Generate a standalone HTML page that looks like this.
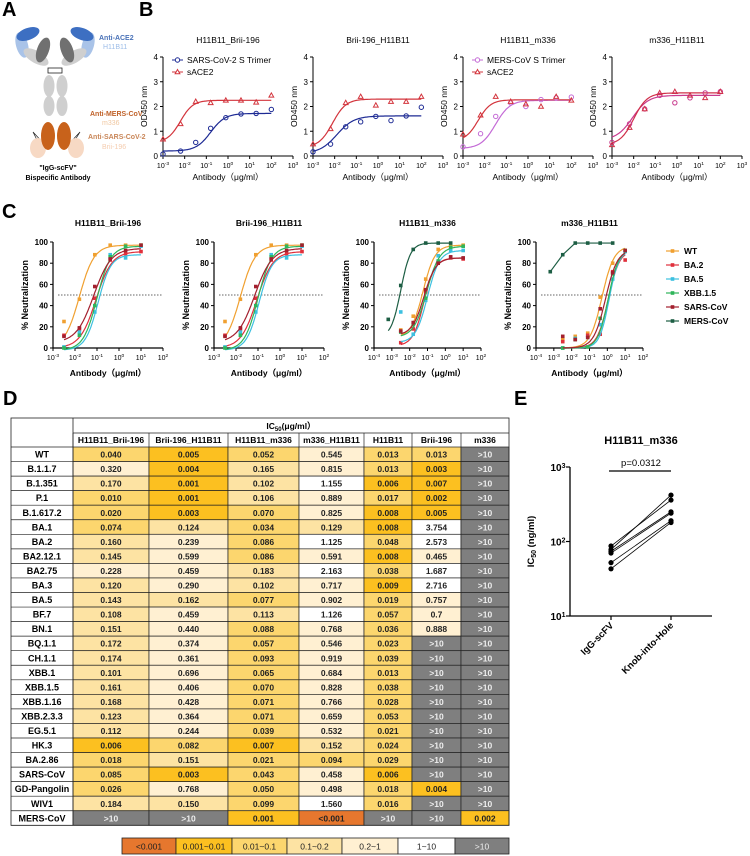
<!DOCTYPE html>
<html><head><meta charset="utf-8">
<style>
html,body{margin:0;padding:0;background:#fff;}
svg{display:block;font-family:"Liberation Sans",Arial,sans-serif;}
</style></head>
<body>
<svg id="fig" width="750" height="856" viewBox="0 0 750 856" xmlns="http://www.w3.org/2000/svg">
<g>
<text x="2" y="16" font-size="20" font-weight="bold">A</text>
<ellipse cx="22" cy="45" rx="6" ry="13" fill="#a9c3e8" transform="rotate(-15 22 45)"/>
<ellipse cx="88" cy="45" rx="6" ry="13" fill="#a9c3e8" transform="rotate(15 88 45)"/>
<ellipse cx="36" cy="57" rx="14" ry="6" fill="#cfcfcf" transform="rotate(30 36 57)"/>
<ellipse cx="74" cy="57" rx="14" ry="6" fill="#cfcfcf" transform="rotate(-30 74 57)"/>
<ellipse cx="43" cy="50" rx="6" ry="13" fill="#707070" transform="rotate(20 43 50)"/>
<ellipse cx="67" cy="50" rx="6" ry="13" fill="#707070" transform="rotate(-20 67 50)"/>
<ellipse cx="28" cy="34" rx="12" ry="6" fill="#3d6fc2" transform="rotate(-20 28 34)"/>
<ellipse cx="82" cy="34" rx="12" ry="6" fill="#3d6fc2" transform="rotate(20 82 34)"/>
<rect x="48" y="68" width="14" height="5" fill="none" stroke="#222" stroke-width="0.8"/>
<ellipse cx="49" cy="86" rx="5.5" ry="11" fill="#cfcfcf"/>
<ellipse cx="62" cy="86" rx="5.5" ry="11" fill="#cfcfcf"/>
<ellipse cx="49" cy="106" rx="5.5" ry="10" fill="#cfcfcf"/>
<ellipse cx="62" cy="106" rx="5.5" ry="10" fill="#cfcfcf"/>
<path d="M42 150 L33 132 L45 145 M69 150 L80 132 L68 145" stroke="#222" stroke-width="0.7" fill="none"/>
<ellipse cx="38" cy="148" rx="8" ry="10" fill="#f7d9c4"/>
<ellipse cx="76" cy="148" rx="8" ry="10" fill="#f7d9c4"/>
<ellipse cx="48" cy="136" rx="7" ry="14" fill="#c8621b"/>
<ellipse cx="64" cy="136" rx="7" ry="14" fill="#c8621b"/>
<text x="99" y="40" font-size="7" font-weight="bold" fill="#4a72b8">Anti-ACE2</text>
<text x="103" y="49" font-size="7" fill="#9dbde8">H11B11</text>
<text x="90" y="116" font-size="7" font-weight="bold" fill="#c0622a">Anti-MERS-CoV</text>
<text x="102" y="125" font-size="7" fill="#f0c7a0">m336</text>
<text x="88" y="139" font-size="7" font-weight="bold" fill="#c98658">Anti-SARS-CoV-2</text>
<text x="102" y="149" font-size="7" fill="#f5cdb0">Brii-196</text>
<text x="58" y="170" font-size="7" font-weight="bold" text-anchor="middle">"IgG-scFV"</text>
<text x="58" y="180" font-size="7" font-weight="bold" text-anchor="middle">Bispecific Antibody</text>
</g>
<text x="139" y="16" font-size="20" font-weight="bold">B</text>
<text x="2" y="218" font-size="20" font-weight="bold">C</text>
<text x="3" y="405" font-size="20" font-weight="bold">D</text>
<text x="514" y="405" font-size="20" font-weight="bold">E</text>
</svg>
<script>
// ---------- Panel B data ----------
const bTitles = ["H11B11_Brii-196","Brii-196_H11B11","H11B11_m336","m336_H11B11"];
const bConc = [-3,-2.19,-1.49,-0.8,-0.1,0.6,1.3,2];
const bS1Vals = [
 [0.08,0.2,0.55,1.12,1.55,1.7,1.72,1.88],
 [0.17,0.48,1.18,1.38,1.6,1.43,1.62,1.97],
 [0.37,0.9,1.6,2.15,2.0,2.28,2.35,2.38],
 [0.55,1.3,1.9,2.45,2.15,2.35,2.55,2.6]];
const bS2Vals = [
 [0.68,1.3,2.2,2.15,2.25,2.25,2.17,2.45],
 [0.48,1.1,2.15,2.4,2.05,2.2,2.2,2.4],
 [0.88,1.65,2.4,2.2,2.1,2.0,2.4,2.25],
 [0.45,1.15,1.9,2.55,2.6,2.45,2.35,2.6]];
// fit params: [logEC50, top, bottom, hill]
const bS1Fit = [[-0.8,1.72,0.2,1.3],[-1.9,1.62,0.1,1.1],[-1.5,2.25,0.3,1.3],[-2.05,2.45,0.65,1.2]];
const bS2Fit = [[-2.2,2.25,0.55,1.5],[-2.1,2.3,0.35,1.4],[-2.3,2.27,0.6,1.5],[-2.0,2.55,0.45,1.4]];
const bS1Names = ["SARS-CoV-2 S Trimer","SARS-CoV-2 S Trimer","MERS-CoV S Trimer","MERS-CoV S Trimer"];
const bYTicks = [0,1,2,3,4];
const bXTicks = [-3,-2,-1,0,1,2,3];

// ---------- Panel C data ----------
const cTitles = ["H11B11_Brii-196","Brii-196_H11B11","H11B11_m336","m336_H11B11"];
const cSeries = ["WT","BA.2","BA.5","XBB.1.5","SARS-CoV","MERS-CoV"];
const cConc = [-2.5,-1.8,-1.1,-0.4,0.3,1];
const cMersConc = [-3.2,-2.5,-1.8,-1.1,-0.4,0.3];
const cWT   = [[25,46,88,97,97,97],[25,46,88,97,97,97],[17,30,65,93,97,97],[8,11,14,48,80,92]];
const cBA2  = [[12,18,47,83,89,91],[12,18,47,83,89,91],[5,18,53,80,85,84],[6,8,12,13,72,83]];
const cBA5  = [[1,15,34,88,85,96],[1,15,34,88,85,96],[34,13,45,87,92,92],[0,9,10,22,65,91]];
const cXBB  = [[0,12,40,86,96,97],[0,12,40,86,96,97],[15,22,47,82,95,96],[0,8,1,28,70,92]];
const cSARS = [[11,19,58,84,92,97],[11,19,58,84,92,97],[16,24,55,80,86,85],[11,8,10,37,71,92]];
const cMERS = [null,null,[27,59,93,99,99,99],[72,88,99,99,99,99]];
const cFitWT   = [[-1.8,97,0,1.3],[-1.8,97,0,1.3],[-1.25,97,10,1.3],[-0.3,96,0,1.3]];
const cFitBA2  = [[-1.05,91,0,1.2],[-1.05,91,0,1.2],[-1.2,85,2,1.4],[0.05,92,0,1.4]];
const cFitBA5  = [[-0.95,88,-2,1.5],[-0.95,88,-2,1.5],[-1.0,92,5,1.3],[0.1,92,0,1.6]];
const cFitXBB  = [[-1.0,96,-2,1.4],[-1.0,96,-2,1.4],[-1.05,96,10,1.2],[0.05,93,0,1.5]];
const cFitSARS = [[-1.15,94,5,1.1],[-1.15,94,5,1.1],[-1.2,85,12,1.3],[-0.1,93,0,1.3]];
const cFitMERS = [null,null,[-2.5,99,10,1.6],null];
const cYTicks = [0,20,40,60,80,100];
const cXMin = [-3,-3,-4,-4];

// ---------- Panel D data ----------
const dColumns = ["H11B11_Brii-196","Brii-196_H11B11","H11B11_m336","m336_H11B11","H11B11","Brii-196","m336"];
const dRows = ["WT","B.1.1.7","B.1.351","P.1","B.1.617.2","BA.1","BA.2","BA2.12.1","BA2.75","BA.3","BA.5","BF.7","BN.1","BQ.1.1","CH.1.1","XBB.1","XBB.1.5","XBB.1.16","XBB.2.3.3","EG.5.1","HK.3","BA.2.86","SARS-CoV","GD-Pangolin","WIV1","MERS-CoV"];
const dCol1 = ["0.040","0.320","0.170","0.010","0.020","0.074","0.160","0.145","0.228","0.120","0.143","0.108","0.151","0.172","0.174","0.101","0.161","0.168","0.123","0.112","0.006","0.018","0.085","0.026","0.184",">10"];
const dCol2 = ["0.005","0.004","0.001","0.001","0.003","0.124","0.239","0.599","0.459","0.290","0.162","0.459","0.440","0.374","0.361","0.696","0.406","0.428","0.364","0.244","0.082","0.151","0.003","0.768","0.150",">10"];
const dCol3 = ["0.052","0.165","0.102","0.106","0.070","0.034","0.086","0.086","0.183","0.102","0.077","0.113","0.088","0.057","0.093","0.065","0.070","0.071","0.071","0.039","0.007","0.021","0.043","0.050","0.099","0.001"];
const dCol4 = ["0.545","0.815","1.155","0.889","0.825","0.129","1.125","0.591","2.163","0.717","0.902","1.126","0.768","0.546","0.919","0.684","0.828","0.766","0.659","0.532","0.152","0.094","0.458","0.498","1.560","<0.001"];
const dCol5 = ["0.013","0.013","0.006","0.017","0.008","0.008","0.048","0.008","0.038","0.009","0.019","0.057","0.036","0.023","0.039","0.013","0.038","0.028","0.053","0.021","0.024","0.029","0.006","0.018","0.016",">10"];
const dCol6 = ["0.013","0.003","0.007","0.002","0.005","3.754","2.573","0.465","1.687","2.716","0.757","0.7","0.888",">10",">10",">10",">10",">10",">10",">10",">10",">10",">10","0.004",">10",">10"];
const dCol7 = [">10",">10",">10",">10",">10",">10",">10",">10",">10",">10",">10",">10",">10",">10",">10",">10",">10",">10",">10",">10",">10",">10",">10",">10",">10","0.002"];
const dLegend = ["<0.001","0.001~0.01","0.01~0.1","0.1~0.2","0.2~1","1~10",">10"];

// ---------- Panel E data ----------
const eGroups = ["IgG-scFV","Knob-into-Hole"];
const eLeft  = [87,78,74,70,52,43];
const eRight = [360,420,250,240,190,180];
const eYTicks = [1,2,3];

const NS='http://www.w3.org/2000/svg';
const svg=document.getElementById('fig');
function mk(tag,attrs,parent){const e=document.createElementNS(NS,tag);for(const k in attrs)e.setAttribute(k,attrs[k]);(parent||svg).appendChild(e);return e;}
function txt(x,y,s,attrs,parent){const e=mk('text',Object.assign({x:x,y:y},attrs||{}),parent);e.textContent=s;return e;}
function pow10(x,y,exp,fs,parent){
  const t=mk('text',{x:x,y:y,'font-size':fs,'text-anchor':'middle'},parent);
  const a=document.createElementNS(NS,'tspan');a.textContent='10';t.appendChild(a);
  const b=document.createElementNS(NS,'tspan');b.setAttribute('dy',-3);b.setAttribute('font-size',fs*0.7);b.textContent=String(exp);t.appendChild(b);
  return t;
}
function hill(x,p){return p[2]+(p[1]-p[2])/(1+Math.pow(10,(p[0]-x)*p[3]));}
function curvePath(p,xmin,xmax,sx,sy){let d='';for(let i=0;i<=80;i++){const x=xmin+(xmax-xmin)*i/80;d+=(i?'L':'M')+sx(x).toFixed(1)+' '+sy(hill(x,p)).toFixed(1);}return d;}

// ---------- Panel B ----------
const bAxisX=[163,313,463,612], bW=130, bY0=156, bY4=57;
for(let c=0;c<4;c++){
  const g=mk('g',{});
  
  
  const x0=bAxisX[c];
  const sx=v=>x0+(v+3)*bW/6;
  const sy=v=>bY0-(v/4)*(bY0-bY4);
  const t=txt(x0+bW/2,43,bTitles[c],{'font-size':8.5,'text-anchor':'middle'},g);
  
  
  mk('path',{d:`M${x0} ${bY4} V${bY0} H${x0+bW}`,stroke:'#000','stroke-width':1,fill:'none'},g);
  bYTicks.forEach(v=>{mk('line',{x1:x0-3,x2:x0,y1:sy(v),y2:sy(v),stroke:'#000'},g);txt(x0-5,sy(v)+3,String(v),{'font-size':8,'text-anchor':'end'},g);});
  bXTicks.forEach(v=>{mk('line',{x1:sx(v),x2:sx(v),y1:bY0,y2:bY0+3,stroke:'#000'},g);pow10(sx(v),bY0+12,v,7,g);});
  const yl=mk('text',{x:0,y:0,'font-size':8.5,'text-anchor':'middle',transform:`translate(${x0-16},${(bY0+bY4)/2}) rotate(-90)`},g);
  yl.textContent='OD450 nm';
  
  
  const xl=txt(x0+bW/2,180,'Antibody（μg/ml）',{'font-size':8.5,'text-anchor':'middle'},g);
  
  
  const c1=c<2?'#1d2a94':(c==2?'#c46bd6':'#c93a8e');
  const c2=c<3?'#d3343c':'#d0304a';
  const p1=mk('path',{d:curvePath(bS1Fit[c],-3,2,sx,sy),stroke:c1,'stroke-width':1.2,fill:'none'},g);
  
  
  const p2=mk('path',{d:curvePath(bS2Fit[c],-3,2,sx,sy),stroke:c2,'stroke-width':1.2,fill:'none'},g);
  
  
  bConc.forEach((x,i)=>{
    const m=mk('circle',{cx:sx(x),cy:sy(bS1Vals[c][i]),r:2.2,fill:'none',stroke:c1,'stroke-width':1},g);
    
    
    const X=sx(x),Y=sy(bS2Vals[c][i]);
    const tr=mk('path',{d:`M${X} ${Y-2.5} L${X+2.4} ${Y+1.8} L${X-2.4} ${Y+1.8}Z`,fill:'none',stroke:c2,'stroke-width':1},g);
    
    
  });
  if(c==0||c==2){
    const lg1=mk('g',{},g);
    
    
    mk('line',{x1:x0+9,x2:x0+20,y1:60,y2:60,stroke:c1},lg1);
    mk('circle',{cx:x0+14.5,cy:60,r:2.2,fill:'#fff',stroke:c1},lg1);
    txt(x0+24,63,bS1Names[c],{'font-size':8.5},lg1);
    const lg2=mk('g',{},g);
    
    
    mk('line',{x1:x0+9,x2:x0+20,y1:72,y2:72,stroke:c2},lg2);
    mk('path',{d:`M${x0+14.5} ${69.5} l2.4 4.3 h-4.8z`,fill:'#fff',stroke:c2},lg2);
    txt(x0+24,75,'sACE2',{'font-size':8.5},lg2);
  }
}

// ---------- Panel C ----------
const cAxisX=[53,214,374,536], cW=[110,110,107,107], cY0=348, cY100=242;
const cColors=['#f0a030','#e0303c','#3cc0e0','#2fb55a','#a3202e','#1d5e44'];
const cVals=[cWT,cBA2,cBA5,cXBB,cSARS,cMERS];
const cFits=[cFitWT,cFitBA2,cFitBA5,cFitXBB,cFitSARS,cFitMERS];
for(let c=0;c<4;c++){
  const g=mk('g',{});
  
  
  const x0=cAxisX[c], xmin=cXMin[c], nd=2-xmin;
  const sx=v=>x0+(v-xmin)*cW[c]/nd;
  const sy=v=>cY0-(v/100)*(cY0-cY100);
  const t=txt(x0+cW[c]/2,226,cTitles[c],{'font-size':8.5,'font-weight':'bold','text-anchor':'middle'},g);
  
  
  mk('path',{d:`M${x0} ${cY100} V${cY0} H${x0+cW[c]}`,stroke:'#000','stroke-width':1.2,fill:'none'},g);
  cYTicks.forEach(v=>{mk('line',{x1:x0-3,x2:x0,y1:sy(v),y2:sy(v),stroke:'#000'},g);txt(x0-5,sy(v)+3,String(v),{'font-size':8,'font-weight':'bold','text-anchor':'end'},g);});
  for(let v=xmin;v<=2;v++){mk('line',{x1:sx(v),x2:sx(v),y1:cY0,y2:cY0+3,stroke:'#000'},g);pow10(sx(v),cY0+12,v,7,g);}
  mk('line',{x1:x0+5,x2:x0+cW[c],y1:sy(50),y2:sy(50),stroke:'#333','stroke-dasharray':'1.5,1.5','stroke-width':0.8},g);
  const yl=mk('text',{x:0,y:0,'font-size':9,'font-weight':'bold','text-anchor':'middle',transform:`translate(${x0-25},${(cY0+cY100)/2}) rotate(-90)`},g);
  yl.textContent='% Neutralization';
  
  
  const xl=txt(x0+cW[c]/2,376,'Antibody（μg/ml）',{'font-size':8.5,'font-weight':'bold','text-anchor':'middle'},g);
  
  
  for(let s=0;s<6;s++){
    const vals=cVals[s][c]; if(!vals) continue;
    const xs=s==5?cMersConc:cConc;
    const fit=cFits[s][c];
    let d;
    if(fit){d=curvePath(fit,xs[0],xs[xs.length-1],sx,sy);}
    else{d=xs.map((x,i)=>(i?'L':'M')+sx(x)+' '+sy(vals[i])).join('');}
    const p=mk('path',{d:d,stroke:cColors[s],'stroke-width':1.2,fill:'none'},g);
    
    
    xs.forEach((x,i)=>{
      const m=mk('rect',{x:sx(x)-1.8,y:sy(vals[i])-1.8,width:3.6,height:3.6,fill:cColors[s]},g);
      
      
    });
  }
}
for(let s=0;s<6;s++){
  const g=mk('g',{});
  
  
  const y=251+s*14;
  mk('line',{x1:666,x2:679,y1:y,y2:y,stroke:cColors[s],'stroke-width':1.2},g);
  mk('rect',{x:670.7,y:y-1.8,width:3.6,height:3.6,fill:cColors[s]},g);
  txt(684,y+3,cSeries[s],{'font-size':8.5,'font-weight':'bold'},g);
}

// ---------- Panel D ----------
const tX=[11,73,149,228,299,364,412,461,509];
const tTop=418, tH1=433, tH2=447, rowH=14.55;
function cellColor(s){
  if(s==='>10') return '#7f7f7f';
  if(s==='<0.001') return '#e6772e';
  const v=parseFloat(s);
  if(v<0.01) return '#fcc020';
  if(v<0.1) return '#fcd66e';
  if(v<0.2) return '#fde3a3';
  if(v<1) return '#fff0d2';
  return '#ffffff';
}
const tg=mk('g',{});


const cols=[dCol1,dCol2,dCol3,dCol4,dCol5,dCol6,dCol7];
for(let r=0;r<dRows.length;r++){
  const y=tH2+r*rowH;
  const lab=txt((tX[0]+tX[1])/2,y+rowH/2+3.3,dRows[r],{'font-size':9,'font-weight':'bold','text-anchor':'middle'},tg);
  
  
  for(let c=0;c<7;c++){
    const s=cols[c][r];
    const cell=mk('rect',{x:tX[c+1],y:y,width:tX[c+2]-tX[c+1],height:rowH,fill:cellColor(s),stroke:'#222','stroke-width':0.7},tg);
    
    
    const tt=txt((tX[c+1]+tX[c+2])/2,y+rowH/2+3.3,s,{'font-size':8.5,'font-weight':'bold','text-anchor':'middle',fill:s==='>10'?'#eee':'#222'},tg);
    
    
  }
}
mk('rect',{x:tX[0],y:tTop,width:tX[8]-tX[0],height:tH2+dRows.length*rowH-tTop,fill:'none',stroke:'#222','stroke-width':0.8},tg);
mk('line',{x1:tX[1],x2:tX[1],y1:tTop,y2:tH2+dRows.length*rowH,stroke:'#222','stroke-width':0.8},tg);
mk('line',{x1:tX[1],x2:tX[8],y1:tH1,y2:tH1,stroke:'#222','stroke-width':0.7},tg);
for(let r=0;r<=dRows.length;r++) mk('line',{x1:tX[0],x2:tX[1],y1:tH2+r*rowH,y2:tH2+r*rowH,stroke:'#222','stroke-width':0.7},tg);
for(let c=1;c<8;c++) mk('line',{x1:tX[c],x2:tX[c],y1:tH1,y2:tH2,stroke:'#222','stroke-width':0.7},tg);
const ic=mk('text',{x:(tX[1]+tX[8])/2,y:429,'font-size':8.5,'font-weight':'bold','text-anchor':'middle'},tg);


ic.innerHTML='IC<tspan font-size="6" dy="2">50</tspan><tspan dy="-2">(μg/ml）</tspan>';
dColumns.forEach((h,c)=>{
  const t=txt((tX[c+1]+tX[c+2])/2,443,h,{'font-size':8.5,'font-weight':'bold','text-anchor':'middle'},tg);
  
  
});
const lX=[122,176,232,287,342,398,455,509];
const legColors=['#e6772e','#fcc020','#fcd66e','#fde3a3','#fff0d2','#ffffff','#7f7f7f'];
dLegend.forEach((s,i)=>{
  const g=mk('g',{});
  
  
  mk('rect',{x:lX[i],y:838,width:lX[i+1]-lX[i],height:16,fill:legColors[i],stroke:'#222','stroke-width':0.8},g);
  txt((lX[i]+lX[i+1])/2,849.5,s,{'font-size':8.5,'text-anchor':'middle',fill:i==6?'#eee':'#222'},g);
});

// ---------- Panel E ----------
const eg=mk('g',{});


const eAx=570, eEnd=712, eY1=616, eY3=467;
const eSy=v=>eY1-(Math.log10(v)-1)*(eY1-eY3)/2;
const eSx=[611,671];
const et=txt(641,444,'H11B11_m336',{'font-size':11,'font-weight':'bold','text-anchor':'middle'},eg);


const pv=txt(641,466,'p=0.0312',{'font-size':9.5,'text-anchor':'middle'},eg);


mk('line',{x1:609,x2:671,y1:471,y2:471,stroke:'#000','stroke-width':1.2},eg);
mk('path',{d:`M${eAx} ${eY3} V${eY1} H${eEnd}`,stroke:'#000','stroke-width':1.3,fill:'none'},eg);
eYTicks.forEach(e=>{const y=eSy(Math.pow(10,e));mk('line',{x1:eAx-4,x2:eAx,y1:y,y2:y,stroke:'#000','stroke-width':1.2},eg);pow10(eAx-12,y+4,e,10,eg).setAttribute('font-weight','bold');});
eSx.forEach((x,i)=>{
  mk('line',{x1:x,x2:x,y1:eY1,y2:eY1+4,stroke:'#000','stroke-width':1.2},eg);
  const l=txt(0,0,eGroups[i],{'font-size':9.5,'font-weight':'bold','text-anchor':'end',transform:`translate(${x+3},${eY1+10}) rotate(-45)`},eg);
  
  
});
const eyl=mk('text',{x:0,y:0,'font-size':9.5,'font-weight':'bold','text-anchor':'middle',transform:`translate(534,${(eY1+eY3)/2}) rotate(-90)`},eg);


eyl.innerHTML='IC<tspan font-size="7" dy="2">50</tspan><tspan dy="-2"> (ng/ml)</tspan>';
eLeft.forEach((v,i)=>{
  const ln=mk('line',{x1:eSx[0],x2:eSx[1],y1:eSy(v),y2:eSy(eRight[i]),stroke:'#000','stroke-width':0.8},eg);
  
  
  const a=mk('circle',{cx:eSx[0],cy:eSy(v),r:2.6,fill:'#000'},eg);
  
  
  const b=mk('circle',{cx:eSx[1],cy:eSy(eRight[i]),r:2.6,fill:'#000'},eg);
  
  
});
</script>
</body></html>
